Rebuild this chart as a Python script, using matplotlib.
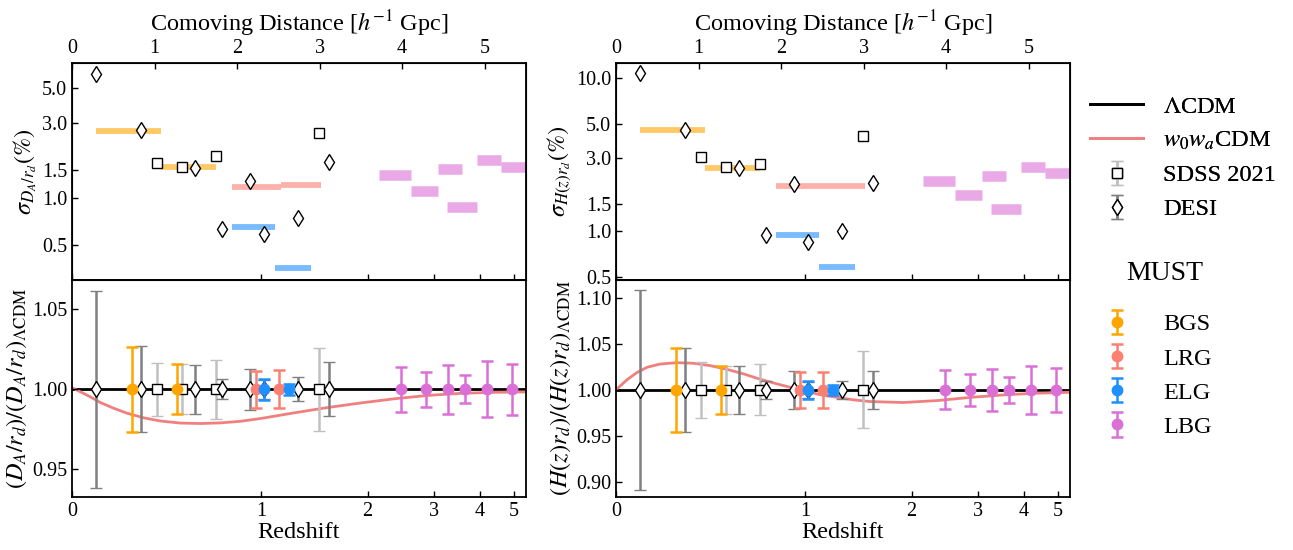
import numpy as np
import matplotlib
matplotlib.use("Agg")
import matplotlib.pyplot as plt
from matplotlib.ticker import FormatStrFormatter, NullLocator

plt.rcParams['font.family'] = 'serif'
plt.rcParams['font.serif'] = ['Liberation Serif', 'DejaVu Serif']
plt.rcParams['mathtext.fontset'] = 'stix'

# ---------------- data ----------------
# DESI (diamonds)
desi_z = [0.10, 0.30, 0.58, 0.74, 0.92, 1.02, 1.29, 1.57]
desi_sig_da = [6.16, 2.70, 1.54, 0.63, 1.27, 0.59, 0.74, 1.68]
desi_sig_h = [10.8, 4.57, 2.57, 0.94, 2.04, 0.85, 1.00, 2.06]

# SDSS 2021 (squares)
sdss_z = [0.38, 0.51, 0.70, 1.48]
sdss_sig_da = [1.66, 1.56, 1.84, 2.58]
sdss_sig_h = [3.04, 2.62, 2.75, 4.18]

# MUST forecast, per tracer: bin edges, effective z, errors (%)
bgs_zlo = [0.10, 0.40]
bgs_zhi = [0.40, 0.70]
bgs_zeff = [0.26, 0.48]
bgs_sig_da = [2.65, 1.56]
bgs_sig_h = [4.55, 2.60]

lrg_zlo = [0.80, 1.15]
lrg_zhi = [1.15, 1.50]
lrg_zeff = [0.96, 1.13]
lrg_sig_da = [1.17, 1.20]
lrg_sig_h = [1.96, 1.98]

elg_zlo = [0.80, 1.10]
elg_zhi = [1.10, 1.40]
elg_zeff = [1.02, 1.21]
elg_sig_da = [0.65, 0.36]
elg_sig_h = [0.95, 0.58]

lbg_zlo = [2.14, 2.61, 3.08, 3.25, 3.92, 4.58]
lbg_zhi = [2.61, 3.08, 3.56, 3.92, 4.58, 5.80]
lbg_zeff = [2.45, 2.86, 3.27, 3.63, 4.18, 4.94]
lbg_sig_da = [1.40, 1.10, 1.52, 0.88, 1.75, 1.58]
lbg_sig_h = [2.12, 1.72, 2.30, 1.40, 2.62, 2.40]

# w0waCDM / LCDM ratio curves
w0wa_da_z = [0, 0.033, 0.074, 0.117, 0.175, 0.235, 0.313, 0.395, 0.498, 0.61, 0.728,
             0.856, 1.0, 1.25, 1.55, 1.91, 2.36, 2.90, 3.56, 4.4, 5.6]
w0wa_da = [1.001, 0.9985, 0.9954, 0.9918, 0.9882, 0.9851, 0.9822, 0.9802, 0.9789, 0.9786,
           0.9790, 0.9800, 0.9818, 0.9852, 0.9885, 0.9914, 0.9941, 0.9962, 0.9975, 0.9981, 0.9984]
w0wa_h_z = [0, 0.044, 0.086, 0.13, 0.187, 0.263, 0.343, 0.424, 0.512, 0.605, 0.703, 0.807,
            0.918, 1.037, 1.115, 1.39, 1.54, 1.9, 2.35, 2.89, 3.53, 4.35, 5.6]
w0wa_h = [1.000, 1.0108, 1.0187, 1.0245, 1.028, 1.0295, 1.0288, 1.0263, 1.0223, 1.0173,
          1.0115, 1.0065, 1.0018, 0.9975, 0.9946, 0.9892, 0.9874, 0.9863, 0.9885, 0.992,
          0.9946, 0.9964, 0.9975]

# ---------------- comoving distance scale ----------------
om = 0.315
zg = np.linspace(0, 20, 20001)
ez = 1.0 / np.sqrt(om * (1 + zg) ** 3 + 1 - om)
chig = np.concatenate([[0], np.cumsum(0.5 * (ez[1:] + ez[:-1]) * np.diff(zg))]) * 2.99792458


def chi_of_z(z):
    return np.interp(z, zg, chig)


def z_of_chi(c):
    return np.interp(c, chig, zg)


CHI_MAX = 5.5
ZMAX = float(z_of_chi(CHI_MAX))

tracers = [
    ('BGS', 'orange', bgs_zlo, bgs_zhi, bgs_zeff, bgs_sig_da, bgs_sig_h, 4.2),
    ('LRG', 'salmon', lrg_zlo, lrg_zhi, lrg_zeff, lrg_sig_da, lrg_sig_h, 4.2),
    ('ELG', 'dodgerblue', elg_zlo, elg_zhi, elg_zeff, elg_sig_da, elg_sig_h, 4.2),
    ('LBG', 'orchid', lbg_zlo, lbg_zhi, lbg_zeff, lbg_sig_da, lbg_sig_h, 7.6),
]

fs_tick = 14.5
fs_lab = 17.5

fig = plt.figure(figsize=(12.93, 5.5), dpi=100)

left = [72 / 1293, 616 / 1293]
width = 454 / 1293
b_low, h_pan = 0.0964, 0.3945
b_up = b_low + h_pan

ylab_up = [r'$\sigma_{D_A/r_d}(\%)$', r'$\sigma_{H(z)r_d}(\%)$']
ylab_low = [r'$(D_A/r_d)/(D_A/r_d)_{\Lambda\mathrm{CDM}}$',
            r'$(H(z)r_d)/(H(z)r_d)_{\Lambda\mathrm{CDM}}$']
yt_up = [[0.5, 1.0, 1.5, 3.0, 5.0], [0.5, 1.0, 1.5, 3.0, 5.0, 10.0]]
ylim_up = [(0.30, 7.2), (0.48, 12.5)]
yt_low = [[0.95, 1.00, 1.05], [0.90, 0.95, 1.00, 1.05, 1.10]]
ylim_low = [(0.9327, 1.0683), (0.884, 1.119)]
desi_sig = [desi_sig_da, desi_sig_h]
sdss_sig = [sdss_sig_da, sdss_sig_h]
curve_z = [w0wa_da_z, w0wa_h_z]
curve_v = [w0wa_da, w0wa_h]

handles = {}
for col in range(2):
    axu = fig.add_axes([left[col], b_up, width, h_pan])
    axl = fig.add_axes([left[col], b_low, width, h_pan])
    for ax in (axu, axl):
        ax.set_xscale('function', functions=(chi_of_z, z_of_chi))
        ax.set_xlim(0, ZMAX)
        for s in ax.spines.values():
            s.set_linewidth(1.3)
        ax.tick_params(direction='in', labelsize=fs_tick, length=4, width=1.0)

    # ---- upper panel: fractional errors ----
    for name, c, zlo, zhi, zeff, sda, sh, lw in tracers:
        sig = sda if col == 0 else sh
        axu.hlines(sig, zlo, zhi, colors=c, alpha=0.6, lw=lw)
    axu.plot(sdss_z, sdss_sig[col], 's', ms=7.5, mfc='white', mec='k', mew=1.0, ls='none')
    axu.plot(desi_z, desi_sig[col], 'd', ms=8, mfc='white', mec='k', mew=1.0, ls='none')
    axu.set_yscale('log')
    axu.set_ylim(*ylim_up[col])
    axu.set_yticks(yt_up[col])
    axu.yaxis.set_major_formatter(FormatStrFormatter('%.1f'))
    axu.yaxis.set_minor_locator(NullLocator())
    axu.tick_params(axis='x', bottom=False, labelbottom=False)
    axu.set_ylabel(ylab_up[col], fontsize=fs_lab, labelpad=2)

    top = axu.twiny()
    top.set_xlim(0, CHI_MAX)
    top.set_xticks([0, 1, 2, 3, 4, 5])
    top.tick_params(direction='in', labelsize=fs_tick, length=4, width=1.0)
    top.set_xlabel(r'Comoving Distance [$h^{-1}$ Gpc]', fontsize=fs_lab, labelpad=6)

    # ---- lower panel: ratios ----
    h1 = axl.axhline(1.0, color='k', lw=2, zorder=1)
    h2, = axl.plot(curve_z[col], curve_v[col], color='lightcoral', lw=2, zorder=1.5)
    h3 = axl.errorbar(sdss_z, np.ones(len(sdss_z)), yerr=np.array(sdss_sig[col]) / 100,
                      fmt='s', ms=7, mfc='white', mec='k', mew=1.0, ecolor='silver',
                      elinewidth=1.8, capsize=4, capthick=1.8, zorder=3)
    h4 = axl.errorbar(desi_z, np.ones(len(desi_z)), yerr=np.array(desi_sig[col]) / 100,
                      fmt='d', ms=8, mfc='white', mec='k', mew=1.0, ecolor='gray',
                      elinewidth=1.8, capsize=4, capthick=1.8, zorder=3)
    for name, c, zlo, zhi, zeff, sda, sh, lw in tracers:
        sig = np.array(sda if col == 0 else sh) / 100
        h = axl.errorbar(zeff, np.ones(len(zeff)), yerr=sig, fmt='o', ms=7.5, color=c,
                         elinewidth=1.8, capsize=4, capthick=1.8, zorder=4)
        handles[name] = h
    handles['lcdm'] = h1
    handles['w0wa'] = h2
    handles['sdss'] = h3
    handles['desi'] = h4

    axl.set_ylim(*ylim_low[col])
    axl.set_yticks(yt_low[col])
    axl.yaxis.set_major_formatter(FormatStrFormatter('%.2f'))
    axl.set_xticks([0, 1, 2, 3, 4, 5])
    axl.set_xticklabels(['0', '1', '2', '3', '4', '5'])
    axl.xaxis.set_minor_locator(NullLocator())
    axl.set_xlabel('Redshift', fontsize=fs_lab, labelpad=1)
    axl.set_ylabel(ylab_low[col], fontsize=fs_lab, labelpad=2)

leg1 = fig.legend([handles['lcdm'], handles['w0wa'], handles['sdss'], handles['desi']],
                  [r'$\Lambda$CDM', r'$w_0w_a$CDM', 'SDSS 2021', 'DESI'],
                  loc='upper left', bbox_to_anchor=(0.826, 0.866), frameon=False,
                  fontsize=17.5, handlelength=2.2, labelspacing=0.5)
fig.text(1165 / 1293, 1 - 273 / 550, 'MUST', fontsize=20, ha='center', va='center')
leg2 = fig.legend([handles['BGS'], handles['LRG'], handles['ELG'], handles['LBG']],
                  ['BGS', 'LRG', 'ELG', 'LBG'],
                  loc='upper left', bbox_to_anchor=(0.826, 0.47), frameon=False,
                  fontsize=17.5, handlelength=2.2, labelspacing=0.5)
fig.add_artist(leg1)

fig.savefig('out.png', dpi=100)
